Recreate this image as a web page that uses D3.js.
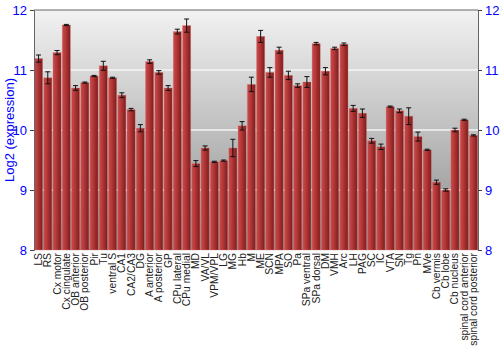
<!DOCTYPE html>
<html lang="en">
<head>
<meta charset="UTF-8">
<title>Expression</title>
<script src="https://cdnjs.cloudflare.com/ajax/libs/d3/7.8.5/d3.min.js"></script>
<style>
  body { margin: 0; background: #fff; }
  text { font-family: "Liberation Sans", Arial, sans-serif; }
</style>
</head>
<body>
<div id="chart"></div>
<script>
// data
var regions = ["LS", "RS", "Cx motor", "Cx cingulate", "OB anterior", "OB posterior", "Pir", "Tu",
  "ventral S", "CA1", "CA2/CA3", "DG", "A anterior", "A posterior", "GP", "CPu lateral", "CPu medial",
  "MD", "VA/VL", "VPM/VPL", "LG", "MG", "Hb", "M", "ME", "SCN", "MPA", "SO", "Pa", "SPa ventral",
  "SPa dorsal", "DM", "VMH", "Arc", "LH", "PAG", "SC", "IC", "VTA", "SN", "Tg", "Pn", "MVe",
  "Cb vermis", "Cb lobe", "Cb nucleus", "spinal cord anterior", "spinal cord posterior"];

var values = [11.19, 10.87, 11.29, 11.75, 10.70, 10.79, 10.90, 11.07,
  10.87, 10.58, 10.34, 10.03, 11.14, 10.96, 10.70, 11.64, 11.74,
  9.44, 9.70, 9.47, 9.49, 9.70, 10.07, 10.76, 11.56, 10.96, 11.33, 10.91, 10.74, 10.80,
  11.44, 10.98, 11.36, 11.43, 10.36, 10.28, 9.82, 9.72, 10.39, 10.32, 10.23, 9.89, 9.67,
  9.13, 9.00, 10.00, 10.17, 9.91];

var errors = [0.06, 0.10, 0.035, 0.01, 0.04, 0.01, 0.01, 0.075,
  0.01, 0.04, 0.02, 0.06, 0.03, 0.03, 0.04, 0.04, 0.11,
  0.05, 0.035, 0.01, 0.01, 0.145, 0.07, 0.12, 0.10, 0.08, 0.05, 0.07, 0.03, 0.09,
  0.02, 0.06, 0.02, 0.02, 0.05, 0.07, 0.04, 0.045, 0.01, 0.03, 0.14, 0.075, 0.01,
  0.035, 0.02, 0.03, 0.01, 0.01];

var yTicks = [8, 9, 10, 11, 12];

var w = 500, h = 350;
var padLeft = 34, padRight = 478, padTop = 10, padBottom = 250;

var svg = d3.select("#chart").append("svg")
  .attr("width", w)
  .attr("height", h);

var defs = svg.append("defs");

var bg = defs.append("linearGradient").attr("id", "bg")
  .attr("x1", 0).attr("y1", 0).attr("x2", 0).attr("y2", 1);
bg.append("stop").attr("offset", "0%").attr("stop-color", "#f2f2f2");
bg.append("stop").attr("offset", "100%").attr("stop-color", "#8c8c8c");

var barGrad = defs.append("linearGradient").attr("id", "bar")
  .attr("x1", 0).attr("y1", 0).attr("x2", 1).attr("y2", 0);
barGrad.append("stop").attr("offset", "0%").attr("stop-color", "#c84a4a");
barGrad.append("stop").attr("offset", "35%").attr("stop-color", "#b83a3a");
barGrad.append("stop").attr("offset", "100%").attr("stop-color", "#7e1c1c");

var x = d3.scaleBand()
  .domain(regions)
  .range([padLeft, padRight])
  .paddingInner(0.12)
  .paddingOuter(0.05);

var y = d3.scaleLinear()
  .domain([8, 12])
  .range([padBottom, padTop]);

// plot background
svg.append("rect")
  .attr("x", padLeft).attr("y", padTop)
  .attr("width", padRight - padLeft).attr("height", padBottom - padTop)
  .attr("fill", "url(#bg)");

// grid lines
svg.selectAll("line.grid")
  .data(yTicks.slice(1, 4))
  .enter().append("line")
  .attr("class", "grid")
  .attr("x1", padLeft).attr("x2", padRight)
  .attr("y1", function(d) { return y(d); })
  .attr("y2", function(d) { return y(d); })
  .attr("stroke", "#f4f4f4")
  .attr("stroke-width", 1.5);

// bars
svg.selectAll("rect.bar")
  .data(values)
  .enter().append("rect")
  .attr("class", "bar")
  .attr("x", function(d, i) { return x(regions[i]); })
  .attr("y", function(d) { return y(d); })
  .attr("width", x.bandwidth())
  .attr("height", function(d) { return padBottom - y(d); })
  .attr("fill", "url(#bar)")
  .attr("stroke", "rgba(220,120,120,0.45)")
  .attr("stroke-width", 0.8);

// error bars
var eb = svg.selectAll("g.err")
  .data(values)
  .enter().append("g")
  .attr("class", "err")
  .attr("transform", function(d, i) { return "translate(" + (x(regions[i]) + x.bandwidth() / 2) + ",0)"; });

eb.append("line")
  .attr("x1", 0).attr("x2", 0)
  .attr("y1", function(d, i) { return y(d + errors[i]); })
  .attr("y2", function(d, i) { return y(d - errors[i]); })
  .attr("stroke", "#111").attr("stroke-width", 1);

eb.append("line")
  .attr("x1", -2.5).attr("x2", 2.5)
  .attr("y1", function(d, i) { return y(d + errors[i]); })
  .attr("y2", function(d, i) { return y(d + errors[i]); })
  .attr("stroke", "#111").attr("stroke-width", 1);

eb.append("line")
  .attr("x1", -2.5).attr("x2", 2.5)
  .attr("y1", function(d, i) { return y(d - errors[i]); })
  .attr("y2", function(d, i) { return y(d - errors[i]); })
  .attr("stroke", "#111").attr("stroke-width", 1);

// frame line on top
svg.append("line")
  .attr("x1", padLeft).attr("x2", padRight).attr("y1", padTop).attr("y2", padTop)
  .attr("stroke", "#666");

// axes
var leftAxis = svg.append("g")
  .attr("transform", "translate(" + padLeft + ",0)")
  .call(d3.axisLeft(y).tickValues(yTicks).tickFormat(d3.format("d")).tickSize(4).tickPadding(3));

var rightAxis = svg.append("g")
  .attr("transform", "translate(" + padRight + ",0)")
  .call(d3.axisRight(y).tickValues(yTicks).tickFormat(d3.format("d")).tickSize(4).tickPadding(3));

[leftAxis, rightAxis].forEach(function(a) {
  a.select(".domain").attr("stroke", "#666");
  a.selectAll(".tick line").attr("stroke", "#444");
  a.selectAll(".tick text")
    .attr("fill", "#0000ff")
    .style("font-size", "13px")
    .style("font-family", "Liberation Sans, Arial, sans-serif");
});

// x labels
svg.selectAll("text.xlab")
  .data(regions)
  .enter().append("text")
  .attr("class", "xlab")
  .attr("transform", function(d) {
    return "translate(" + (x(d) + x.bandwidth() / 2 + 3.5) + "," + (padBottom + 3) + ") rotate(-90)";
  })
  .attr("text-anchor", "end")
  .attr("fill", "#222")
  .style("font-size", "10.3px")
  .text(function(d) { return d; });

// y title
svg.append("text")
  .attr("transform", "translate(14," + ((padTop + padBottom) / 2) + ") rotate(-90)")
  .attr("text-anchor", "middle")
  .attr("fill", "#0000ff")
  .style("font-size", "13px")
  .text("Log2 (expression)");
</script>
</body>
</html>
